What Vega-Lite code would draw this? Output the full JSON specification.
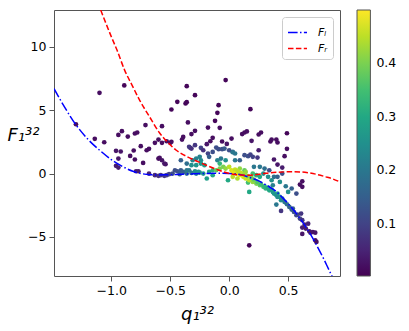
{
  "$schema": "https://vega.github.io/schema/vega-lite/v6.json",
  "width": 286,
  "height": 266,
  "autosize": {"type": "none"},
  "padding": {"left": 54, "top": 10, "right": 69, "bottom": 55},
  "config": {
    "font": "DejaVu Sans",
    "view": {"stroke": "#555", "strokeWidth": 1},
    "axis": {"domain": false, "grid": false, "tickColor": "#555", "tickSize": 5, "labelFontSize": 12.5, "labelColor": "#000", "labelPadding": 3, "titleFontSize": 18, "titleFontWeight": "normal", "titleFontStyle": "italic", "titleColor": "#000"}
  },
  "datasets": {
    "pts": [
      {"q":-1.10,"F":6.37,"c":0.02},{"q":-1.30,"F":3.89,"c":0.02},{"q":-1.14,"F":2.74,"c":0.02},{"q":-1.06,"F":2.47,"c":0.02},{"q":-0.89,"F":6.95,"c":0.01},{"q":-0.91,"F":3.34,"c":0.02},{"q":-0.94,"F":3.05,"c":0.02},{"q":-0.86,"F":2.92,"c":0.02},{"q":-0.80,"F":3.16,"c":0.02},{"q":-0.78,"F":3.24,"c":0.02},{"q":-0.71,"F":3.82,"c":0.02},{"q":-0.63,"F":2.42,"c":0.02},{"q":-0.75,"F":2.16,"c":0.02},{"q":-0.81,"F":1.82,"c":0.02},{"q":-0.70,"F":1.84,"c":0.02},{"q":-0.68,"F":1.95,"c":0.02},{"q":-0.96,"F":1.79,"c":0.03},{"q":-0.92,"F":1.74,"c":0.03},{"q":-0.84,"F":1.39,"c":0.02},{"q":-0.94,"F":1.18,"c":0.03},{"q":-0.80,"F":1.11,"c":0.02},{"q":-0.73,"F":0.84,"c":0.02},{"q":-0.96,"F":0.61,"c":0.04},{"q":-0.94,"F":0.47,"c":0.04},{"q":-0.79,"F":0.18,"c":0.04},{"q":-0.77,"F":0.18,"c":0.04},{"q":-0.68,"F":0.0,"c":0.05},{"q":-0.60,"F":1.18,"c":0.02},{"q":-0.57,"F":1.05,"c":0.03},{"q":-0.59,"F":1.24,"c":0.02},{"q":-0.55,"F":0.79,"c":0.03},{"q":-0.54,"F":0.74,"c":0.03},
      {"q":-0.36,"F":6.89,"c":0.01},{"q":-0.03,"F":7.37,"c":0.01},{"q":-0.29,"F":6.18,"c":0.01},{"q":-0.44,"F":5.66,"c":0.01},{"q":-0.37,"F":5.53,"c":0.01},{"q":-0.36,"F":5.63,"c":0.01},{"q":-0.49,"F":5.05,"c":0.01},{"q":-0.09,"F":5.39,"c":0.01},{"q":-0.10,"F":4.79,"c":0.01},{"q":-0.35,"F":4.03,"c":0.02},{"q":-0.12,"F":4.16,"c":0.01},{"q":-0.57,"F":3.74,"c":0.02},{"q":-0.08,"F":3.61,"c":0.02},{"q":-0.18,"F":3.63,"c":0.02},{"q":-0.29,"F":3.37,"c":0.02},{"q":-0.32,"F":3.11,"c":0.02},{"q":-0.39,"F":2.89,"c":0.02},{"q":-0.40,"F":2.68,"c":0.02},{"q":-0.14,"F":2.82,"c":0.02},{"q":-0.16,"F":2.55,"c":0.02},{"q":-0.19,"F":2.32,"c":0.03},{"q":0.02,"F":2.76,"c":0.02},{"q":-0.02,"F":2.34,"c":0.03},{"q":-0.06,"F":2.53,"c":0.02},{"q":-0.60,"F":2.68,"c":0.02},{"q":-0.57,"F":2.42,"c":0.02},{"q":-0.53,"F":2.55,"c":0.02},{"q":-0.50,"F":2.42,"c":0.02},{"q":-0.49,"F":2.50,"c":0.02},
      {"q":0.18,"F":5.08,"c":0.01},{"q":0.11,"F":3.11,"c":0.02},{"q":0.13,"F":3.24,"c":0.02},{"q":0.15,"F":3.32,"c":0.02},{"q":0.25,"F":3.08,"c":0.02},{"q":0.27,"F":3.24,"c":0.02},{"q":0.35,"F":2.53,"c":0.02},{"q":0.36,"F":2.68,"c":0.02},{"q":0.40,"F":2.68,"c":0.02},{"q":0.41,"F":2.45,"c":0.02},{"q":0.49,"F":3.18,"c":0.01},{"q":0.19,"F":2.58,"c":0.03},{"q":0.25,"F":1.84,"c":0.04},{"q":0.49,"F":1.95,"c":0.02},{"q":0.47,"F":1.37,"c":0.02},{"q":0.38,"F":1.11,"c":0.03},{"q":0.41,"F":0.71,"c":0.03},{"q":0.45,"F":0.47,"c":0.04},{"q":0.62,"F":-0.61,"c":0.02},{"q":0.60,"F":-0.87,"c":0.02},{"q":0.62,"F":-1.05,"c":0.02},{"q":0.17,"F":-5.66,"c":0.01},
      {"q":-0.34,"F":2.11,"c":0.08},{"q":-0.33,"F":2.03,"c":0.09},{"q":-0.29,"F":2.24,"c":0.08},{"q":-0.24,"F":2.03,"c":0.1},{"q":-0.22,"F":1.84,"c":0.07},{"q":-0.32,"F":1.97,"c":0.07},
      {"q":-0.11,"F":2.05,"c":0.12},{"q":-0.09,"F":1.92,"c":0.12},{"q":-0.06,"F":1.92,"c":0.12},{"q":-0.04,"F":1.97,"c":0.14},{"q":0.0,"F":1.84,"c":0.12},{"q":0.03,"F":1.71,"c":0.15},{"q":-0.18,"F":1.58,"c":0.1},{"q":-0.14,"F":1.71,"c":0.12},{"q":-0.17,"F":1.32,"c":0.15},
      {"q":0.13,"F":1.45,"c":0.12},{"q":0.16,"F":1.37,"c":0.12},{"q":0.18,"F":1.50,"c":0.1},{"q":0.24,"F":1.26,"c":0.08},{"q":0.20,"F":1.32,"c":0.1},{"q":0.03,"F":1.68,"c":0.2},{"q":0.05,"F":1.58,"c":0.2},{"q":0.05,"F":1.05,"c":0.2},{"q":0.09,"F":1.05,"c":0.15},{"q":0.21,"F":0.53,"c":0.2},{"q":0.26,"F":0.53,"c":0.2},{"q":0.30,"F":0.39,"c":0.18},
      {"q":0.34,"F":0.26,"c":0.12},{"q":0.41,"F":-0.26,"c":0.15},{"q":0.45,"F":0.0,"c":0.12},{"q":0.37,"F":-0.92,"c":0.22},{"q":0.43,"F":-0.66,"c":0.25},{"q":0.17,"F":-1.45,"c":0.3},{"q":0.16,"F":-0.71,"c":0.35},{"q":0.48,"F":-1.0,"c":0.2},{"q":0.50,"F":-1.45,"c":0.25},{"q":0.53,"F":-1.18,"c":0.15},{"q":0.57,"F":-1.58,"c":0.12},{"q":0.41,"F":-1.58,"c":0.3},{"q":0.44,"F":-2.95,"c":0.08},{"q":0.40,"F":-2.45,"c":0.2},{"q":0.43,"F":-1.84,"c":0.3},{"q":0.44,"F":-2.1,"c":0.25},{"q":0.29,"F":0.0,"c":0.25},{"q":0.33,"F":-0.26,"c":0.25},{"q":0.36,"F":-0.53,"c":0.25},{"q":0.38,"F":-0.26,"c":0.18},
      {"q":0.54,"F":-2.76,"c":0.15},{"q":0.58,"F":-3.24,"c":0.1},{"q":0.61,"F":-3.16,"c":0.08},{"q":0.60,"F":-3.55,"c":0.1},{"q":0.62,"F":-3.68,"c":0.08},{"q":0.64,"F":-4.03,"c":0.05},{"q":0.67,"F":-3.95,"c":0.05},{"q":0.62,"F":-4.26,"c":0.04},{"q":0.65,"F":-4.34,"c":0.04},{"q":0.68,"F":-4.55,"c":0.03},{"q":0.69,"F":-4.66,"c":0.03},{"q":0.71,"F":-4.61,"c":0.03},{"q":0.73,"F":-4.66,"c":0.03},{"q":0.62,"F":-4.76,"c":0.03},{"q":0.73,"F":-5.26,"c":0.02},{"q":0.74,"F":-5.39,"c":0.02},
      {"q":0.37,"F":-1.45,"c":0.28},{"q":0.38,"F":-1.58,"c":0.27},{"q":0.40,"F":-1.71,"c":0.26},{"q":0.41,"F":-1.84,"c":0.25},{"q":0.45,"F":-1.97,"c":0.22},{"q":0.47,"F":-2.24,"c":0.2},{"q":0.49,"F":-2.42,"c":0.18},{"q":0.51,"F":-2.63,"c":0.16},{"q":0.53,"F":-2.84,"c":0.15},{"q":0.55,"F":-3.03,"c":0.13},{"q":0.57,"F":-3.29,"c":0.11},
      {"q":-0.63,"F":-0.13,"c":0.06},{"q":-0.60,"F":-0.18,"c":0.07},{"q":-0.58,"F":-0.13,"c":0.08},{"q":-0.55,"F":-0.18,"c":0.08},{"q":-0.53,"F":-0.13,"c":0.09},{"q":-0.51,"F":-0.05,"c":0.1},{"q":-0.46,"F":0.26,"c":0.12},{"q":-0.44,"F":0.18,"c":0.12},{"q":-0.41,"F":0.26,"c":0.14},{"q":-0.39,"F":0.13,"c":0.15},{"q":-0.48,"F":0.0,"c":0.12},{"q":-0.42,"F":-0.05,"c":0.15},{"q":-0.36,"F":0.0,"c":0.18},{"q":-0.32,"F":0.05,"c":0.2},{"q":-0.28,"F":0.0,"c":0.22},{"q":-0.25,"F":0.08,"c":0.25},{"q":-0.22,"F":0.0,"c":0.27},{"q":-0.19,"F":-0.39,"c":0.28},{"q":-0.17,"F":0.13,"c":0.3},{"q":-0.14,"F":0.26,"c":0.32},{"q":-0.36,"F":0.26,"c":0.2},{"q":-0.34,"F":0.26,"c":0.2},{"q":-0.29,"F":0.18,"c":0.24},{"q":-0.26,"F":0.13,"c":0.26},{"q":-0.14,"F":-0.13,"c":0.3},
      {"q":-0.41,"F":1.05,"c":0.15},{"q":-0.36,"F":0.79,"c":0.18},{"q":-0.31,"F":1.05,"c":0.22},{"q":-0.28,"F":1.18,"c":0.22},{"q":-0.25,"F":1.32,"c":0.22},{"q":-0.24,"F":1.05,"c":0.24},{"q":-0.32,"F":0.66,"c":0.25},{"q":-0.28,"F":0.66,"c":0.26},{"q":-0.24,"F":0.79,"c":0.27},{"q":-0.21,"F":0.66,"c":0.28},{"q":-0.10,"F":1.05,"c":0.22},{"q":-0.07,"F":1.18,"c":0.2},{"q":-0.03,"F":1.05,"c":0.25},
      {"q":-0.08,"F":0.79,"c":0.33},{"q":0.09,"F":0.39,"c":0.42},{"q":0.13,"F":0.26,"c":0.38},{"q":0.14,"F":0.13,"c":0.42},{"q":0.03,"F":-0.26,"c":0.45},{"q":0.07,"F":-0.39,"c":0.44},{"q":0.2,"F":0.0,"c":0.35},{"q":0.23,"F":-0.13,"c":0.32},{"q":0.26,"F":-0.26,"c":0.3},{"q":-0.01,"F":-0.53,"c":0.3},
      {"q":-0.11,"F":0.26,"c":0.38},{"q":-0.08,"F":0.39,"c":0.4},{"q":-0.05,"F":0.53,"c":0.4},{"q":-0.03,"F":0.39,"c":0.42},{"q":0.0,"F":0.53,"c":0.45},{"q":0.02,"F":0.26,"c":0.47},{"q":0.03,"F":0.13,"c":0.48},{"q":0.05,"F":0.32,"c":0.46},{"q":0.06,"F":0.0,"c":0.48},{"q":0.07,"F":0.21,"c":0.45},{"q":0.09,"F":-0.13,"c":0.48},{"q":0.10,"F":0.05,"c":0.45},{"q":0.12,"F":-0.26,"c":0.47},{"q":0.13,"F":-0.05,"c":0.43},{"q":0.14,"F":-0.39,"c":0.46},{"q":0.16,"F":-0.21,"c":0.42},{"q":0.17,"F":-0.53,"c":0.45},{"q":0.19,"F":-0.34,"c":0.4},{"q":0.20,"F":-0.66,"c":0.42},{"q":0.21,"F":-0.47,"c":0.38},{"q":0.23,"F":-0.79,"c":0.4},{"q":0.24,"F":-0.66,"c":0.36},{"q":0.26,"F":-0.92,"c":0.38},{"q":0.27,"F":-0.84,"c":0.35},{"q":0.29,"F":-1.05,"c":0.35},{"q":0.30,"F":-1.0,"c":0.33},{"q":0.31,"F":-1.18,"c":0.32},{"q":0.33,"F":-1.11,"c":0.3},{"q":0.34,"F":-1.32,"c":0.3},{"q":0.36,"F":-1.26,"c":0.28}
    ],
    "curves": [
      {"curve":"F_L","q":-1.486,"F":6.7},{"curve":"F_L","q":-1.40,"F":5.3},{"curve":"F_L","q":-1.297,"F":3.81},{"curve":"F_L","q":-1.2,"F":2.72},{"curve":"F_L","q":-1.099,"F":1.84},{"curve":"F_L","q":-1.0,"F":1.1},{"curve":"F_L","q":-0.958,"F":0.84},{"curve":"F_L","q":-0.9,"F":0.53},{"curve":"F_L","q":-0.817,"F":0.18},{"curve":"F_L","q":-0.75,"F":0.01},{"curve":"F_L","q":-0.675,"F":-0.09},{"curve":"F_L","q":-0.6,"F":-0.11},{"curve":"F_L","q":-0.534,"F":-0.1},{"curve":"F_L","q":-0.45,"F":-0.08},{"curve":"F_L","q":-0.393,"F":-0.05},{"curve":"F_L","q":-0.3,"F":-0.02},{"curve":"F_L","q":-0.2,"F":0.01},{"curve":"F_L","q":-0.11,"F":0.02},{"curve":"F_L","q":0.0,"F":0.0},{"curve":"F_L","q":0.1,"F":-0.1},{"curve":"F_L","q":0.172,"F":-0.3},{"curve":"F_L","q":0.25,"F":-0.58},{"curve":"F_L","q":0.3,"F":-0.83},{"curve":"F_L","q":0.342,"F":-1.06},{"curve":"F_L","q":0.4,"F":-1.42},{"curve":"F_L","q":0.45,"F":-1.88},{"curve":"F_L","q":0.5,"F":-2.37},{"curve":"F_L","q":0.55,"F":-2.92},{"curve":"F_L","q":0.6,"F":-3.53},{"curve":"F_L","q":0.65,"F":-4.21},{"curve":"F_L","q":0.7,"F":-4.96},{"curve":"F_L","q":0.75,"F":-5.8},{"curve":"F_L","q":0.8,"F":-6.7},{"curve":"F_L","q":0.85,"F":-7.67},{"curve":"F_L","q":0.875,"F":-8.15},
      {"curve":"F_R","q":-1.09,"F":12.9},{"curve":"F_R","q":-1.0,"F":10.8},{"curve":"F_R","q":-0.95,"F":9.7},{"curve":"F_R","q":-0.887,"F":8.16},{"curve":"F_R","q":-0.82,"F":6.9},{"curve":"F_R","q":-0.76,"F":5.79},{"curve":"F_R","q":-0.675,"F":4.47},{"curve":"F_R","q":-0.59,"F":3.2},{"curve":"F_R","q":-0.52,"F":2.45},{"curve":"F_R","q":-0.449,"F":1.84},{"curve":"F_R","q":-0.35,"F":1.3},{"curve":"F_R","q":-0.25,"F":0.88},{"curve":"F_R","q":-0.11,"F":0.34},{"curve":"F_R","q":0.0,"F":0.0},{"curve":"F_R","q":0.1,"F":-0.12},{"curve":"F_R","q":0.17,"F":-0.13},{"curve":"F_R","q":0.25,"F":-0.05},{"curve":"F_R","q":0.31,"F":0.03},{"curve":"F_R","q":0.4,"F":0.1},{"curve":"F_R","q":0.51,"F":0.14},{"curve":"F_R","q":0.6,"F":0.13},{"curve":"F_R","q":0.68,"F":0.05},{"curve":"F_R","q":0.75,"F":-0.08},{"curve":"F_R","q":0.82,"F":-0.26},{"curve":"F_R","q":0.88,"F":-0.43},{"curve":"F_R","q":0.94,"F":-0.66}
    ]
  },
  "layer": [
    {
      "data": {"name": "pts"},
      "mark": {"type": "circle", "size": 22, "opacity": 1},
      "encoding": {
        "x": {"field": "q", "type": "quantitative", "scale": {"domain": [-1.486, 0.94], "nice": false, "zero": false}, "axis": {"values": [-1, -0.5, 0, 0.5], "format": ".1f", "title": "q₁³²", "titleY": 43, "titleBaseline": "alphabetic"}},
        "y": {"field": "F", "type": "quantitative", "scale": {"domain": [-8.08, 12.9], "nice": false, "zero": false}, "axis": {"values": [-5, 0, 5, 10], "format": "d", "title": "F₁³²", "titleAngle": 0, "titleAlign": "left", "titleX": -47, "titleY": 130, "titleBaseline": "alphabetic"}},
        "color": {"field": "c", "type": "quantitative", "scale": {"scheme": "viridis", "domain": [0.003, 0.4996], "nice": false},
          "legend": {"title": null, "orient": "right", "offset": 17, "direction": "vertical", "gradientLength": 266, "gradientThickness": 13.4, "values": [0.1, 0.2, 0.3, 0.4], "format": ".1f", "labelFontSize": 12.5, "labelColor": "#000", "labelOffset": 6, "gradientStrokeColor": "#555", "gradientStrokeWidth": 1, "padding": 0}}
      }
    },
    {
      "data": {"name": "curves"},
      "mark": {"type": "line", "strokeWidth": 1.5, "interpolate": "monotone", "clip": true},
      "encoding": {
        "x": {"field": "q", "type": "quantitative"},
        "y": {"field": "F", "type": "quantitative"},
        "stroke": {"field": "curve", "type": "nominal", "scale": {"domain": ["F_L", "F_R"], "range": ["#0000ff", "#ff0000"]},
          "legend": {"title": null, "orient": "top-right", "offset": 7, "symbolType": "stroke", "symbolSize": 361, "symbolStrokeWidth": 1.5, "labelExpr": "datum.value == 'F_L' ? 'Fₗ' : 'Fᵣ'", "labelFontStyle": "italic", "labelFontSize": 11, "labelColor": "#000", "labelOffset": 10, "strokeColor": "#ccc", "fillColor": "white", "padding": 5, "cornerRadius": 3, "rowPadding": 0}},
        "strokeDash": {"field": "curve", "type": "nominal", "scale": {"domain": ["F_L", "F_R"], "range": [[9.6, 2.4, 1.5, 2.4], [5.5, 2.4]]},
          "legend": {"title": null, "orient": "top-right", "offset": 7, "symbolType": "stroke", "symbolSize": 361, "symbolStrokeWidth": 1.5, "labelExpr": "datum.value == 'F_L' ? 'Fₗ' : 'Fᵣ'", "labelFontStyle": "italic", "labelFontSize": 11, "labelColor": "#000", "labelOffset": 10, "strokeColor": "#ccc", "fillColor": "white", "padding": 5, "cornerRadius": 3, "rowPadding": 0}}
      }
    }
  ]
}
